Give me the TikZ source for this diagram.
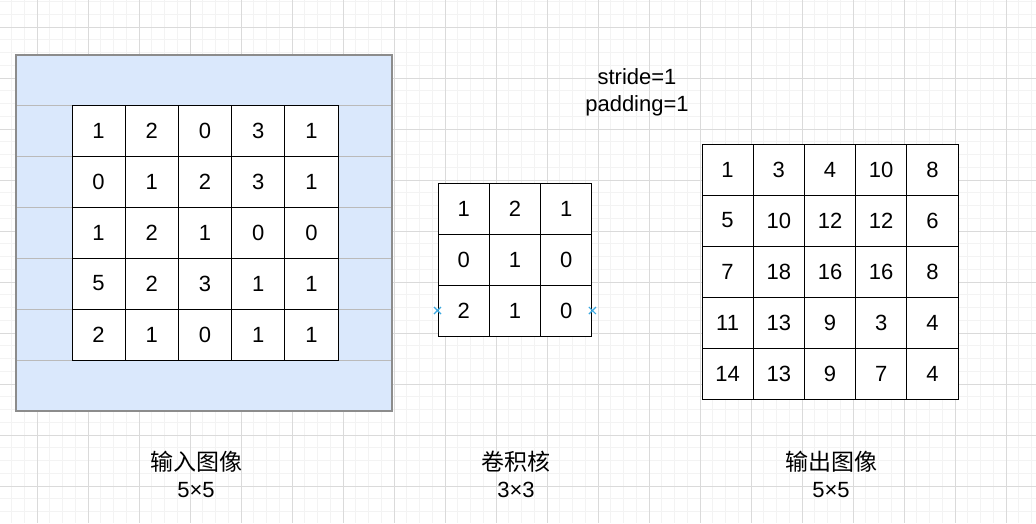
\documentclass[tikz,border=0pt]{standalone}
\usepackage{fontspec}
\setmainfont{Liberation Sans}
\newfontfamily\cjk{Noto Sans CJK SC}
\usepackage{xcolor}
\definecolor{padblue}{HTML}{DAE8FC}
\definecolor{padline}{HTML}{8C8C8C}
\definecolor{gridmajor}{HTML}{DADADA}
\definecolor{gridminor}{HTML}{F3F3F3}
\definecolor{pinblue}{HTML}{3AA8E0}
\usepackage{tikz}

\tikzset{
  cell/.style={draw=black,fill=white,line width=1pt,minimum height=51pt,inner sep=0pt,
    font=\fontsize{22}{26}\selectfont},
  caption/.style={align=center,font=\fontsize{22}{27}\selectfont},
}

\begin{document}
\begin{tikzpicture}[x=1pt,y=-1pt]
  \useasboundingbox (0,0) rectangle (1036,523);
  % background grid
  \foreach \x in {-1.25,11.5,...,1040} \draw[gridminor,line width=0.9pt] (\x,0) -- (\x,523);
  \foreach \y in {1.5,14.25,...,525} \draw[gridminor,line width=0.9pt] (0,\y) -- (1036,\y);
  \foreach \x in {37,88,...,1040} \draw[gridmajor,line width=0.9pt] (\x,0) -- (\x,523);
  \foreach \y in {27,78,...,525} \draw[gridmajor,line width=0.9pt] (0,\y) -- (1036,\y);

  % padding around the input
  \draw[padline!60,fill=padblue,line width=1pt] (16,55) rectangle (392,411);
  \foreach \y in {105,156,...,360} \draw[padline!60,line width=1pt] (16,\y) -- (392,\y);
  \draw[padline,line width=1.3pt] (16,55) rectangle (392,411);

  % input image
  \foreach \row [count=\r] in {{1,2,0,3,1},{0,1,2,3,1},{1,2,1,0,0},{5,2,3,1,1},{2,1,0,1,1}}
    \foreach \v [count=\c] in \row
      \node[cell,minimum width=53.2pt] (in-\r-\c) at ({72+53.2*(\c-0.5)},{105+51*(\r-0.5)}) {\v};

  % kernel
  \foreach \row [count=\r] in {{1,2,1},{0,1,0},{2,1,0}}
    \foreach \v [count=\c] in \row
      \node[cell,minimum width=51.3pt] (k-\r-\c) at ({438+51.3*(\c-0.5)},{183+51*(\r-0.5)}) {\v};
  \foreach \p in {(k-3-1.west),(k-3-3.east)}
    \draw[pinblue,line width=1.2pt] \p +(-3.5,-3.5) -- +(3.5,3.5) \p +(-3.5,3.5) -- +(3.5,-3.5);

  % output image
  \foreach \row [count=\r] in {{1,3,4,10,8},{5,10,12,12,6},{7,18,16,16,8},{11,13,9,3,4},{14,13,9,7,4}}
    \foreach \v [count=\c] in \row
      \node[cell,minimum width=51.2pt] (out-\r-\c) at ({702+51.2*(\c-0.5)},{144+51*(\r-0.5)}) {\v};

  % labels
  \node[caption] (params) at (637,92) {stride=1\\padding=1};
  \node[caption] (inlabel) at (196,474) {{\cjk\fontsize{23}{27}\selectfont 输入图像}\\5×5};
  \node[caption] (klabel) at (516,474) {{\cjk\fontsize{23}{27}\selectfont 卷积核}\\3×3};
  \node[caption] (outlabel) at (831,474) {{\cjk\fontsize{23}{27}\selectfont 输出图像}\\5×5};
\end{tikzpicture}
\end{document}
